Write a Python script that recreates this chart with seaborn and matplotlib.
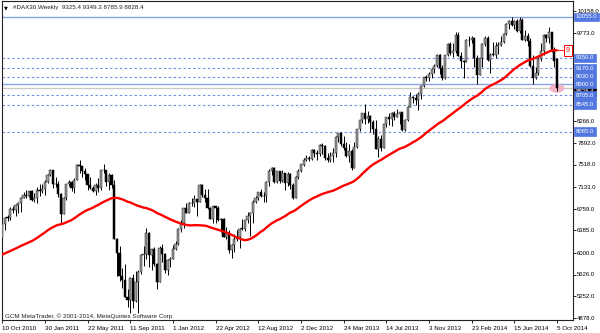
import numpy as np
import pandas as pd
import matplotlib
matplotlib.use("Agg")
import matplotlib.pyplot as plt
import matplotlib.transforms as mtrans
from matplotlib.patches import Ellipse
import seaborn as sns

# ---------------- data (weekly bars, first week = 10 Oct 2010) ----------------
opens = [6250, 6492, 6606, 6601, 6754, 6728, 6829, 6849, 6947, 6993, 6982, 7057, 6914, 6947, 7076, 7062, 7102, 7216, 7340, 7426,
         7185, 7178, 7011, 6664, 6947, 7180, 7217, 7116, 7254, 7514, 7492, 7405, 7359, 7164, 7109, 7070, 7164, 7121, 7419, 7419,
         7220, 7344, 7158, 6236, 5998, 5603, 5538, 5246, 5189, 5574, 5164, 5502, 5675, 5967, 5971, 6346, 5966, 6057, 5800, 5492,
         6080, 5986, 5702, 5878, 5898, 6057, 6143, 6404, 6511, 6766, 6692, 6848, 6864, 6922, 6880, 7157, 6996, 6947, 6775, 6583,
         6801, 6762, 6561, 6580, 6271, 6339, 6050, 6130, 6229, 6263, 6416, 6410, 6557, 6630, 6690, 6866, 6945, 7040, 6971, 6970,
         7214, 7412, 7451, 7216, 7398, 7233, 7380, 7203, 7363, 7163, 6950, 7309, 7405, 7518, 7597, 7636, 7612, 7776, 7716, 7702,
         7857, 7833, 7634, 7593, 7661, 7708, 7986, 8058, 7870, 7795, 7658, 7744, 7459, 7814, 8122, 8278, 8398, 8305, 8348, 8254,
         8127, 7789, 7959, 7806, 8212, 8331, 8298, 8410, 8338, 8391, 8416, 8103, 8275, 8510, 8675, 8661, 8622, 8725, 8869, 9018,
         9010, 9078, 9169, 9213, 9405, 9172, 9006, 9400, 9589, 9435, 9473, 9742, 9392, 9306, 9289, 9662, 9656, 9692, 9350, 9056,
         9342, 9587, 9695, 9315, 9409, 9401, 9556, 9581, 9630, 9768, 9943, 9987, 9912, 9987, 9815, 10009, 9666, 9720, 9644, 9210,
         9010, 9092, 9339, 9470, 9747, 9691, 9799, 9490, 9325.4]
highs = [6510, 6620, 6650, 6790, 6800, 6840, 6870, 6960, 7040, 7080, 7070, 7077, 7030, 7130, 7180, 7180, 7250, 7360, 7440, 7430,
         7300, 7230, 7020, 6960, 7190, 7260, 7230, 7280, 7530, 7600, 7500, 7450, 7360, 7300, 7150, 7200, 7280, 7420, 7520, 7420,
         7370, 7360, 7250, 6250, 6120, 5740, 5800, 5370, 5580, 5630, 5690, 5700, 5980, 6120, 6430, 6360, 6070, 6100, 5820, 6120,
         6150, 6000, 5900, 5930, 6130, 6200, 6420, 6560, 6770, 6860, 6870, 6950, 7000, 6930, 7190, 7190, 7100, 7100, 6790, 6810,
         6810, 6800, 6590, 6600, 6440, 6400, 6150, 6330, 6390, 6420, 6580, 6560, 6700, 6700, 6900, 6980, 7040, 7100, 7040, 7230,
         7440, 7480, 7470, 7410, 7400, 7420, 7380, 7390, 7380, 7200, 7320, 7440, 7530, 7630, 7680, 7670, 7780, 7780, 7760, 7870,
         7880, 7850, 7710, 7730, 7810, 8000, 8060, 8070, 8000, 7910, 7870, 7780, 7900, 8130, 8290, 8400, 8560, 8440, 8370, 8290,
         8280, 8000, 8020, 8220, 8340, 8400, 8420, 8430, 8470, 8420, 8420, 8300, 8520, 8770, 8700, 8730, 8760, 8880, 9020, 9060,
         9110, 9180, 9250, 9420, 9420, 9230, 9410, 9600, 9620, 9600, 9790, 9800, 9450, 9320, 9680, 9730, 9720, 9700, 9400, 9350,
         9600, 9720, 9720, 9430, 9620, 9620, 9630, 9720, 9780, 9960, 10000, 10050, 10000, 10020, 10050, 10030, 9830, 9780, 9700, 9400,
         9200, 9400, 9600, 9760, 9760, 9890, 9800, 9540, 9349.3]
lows = [6220, 6400, 6540, 6560, 6690, 6630, 6680, 6700, 6940, 6950, 6960, 6890, 6880, 6860, 6980, 7020, 7000, 7200, 7320, 7110,
        7130, 6960, 6490, 6660, 6900, 7150, 7060, 7020, 7250, 7380, 7300, 7250, 7080, 7100, 7040, 7000, 7050, 7080, 7380, 7150,
        7080, 7120, 6230, 5600, 5510, 5400, 5240, 5070, 4965, 5050, 5150, 4970, 5640, 5780, 5890, 5760, 5700, 5770, 5370, 5490,
        5840, 5660, 5620, 5750, 5890, 6040, 6140, 6360, 6430, 6680, 6690, 6810, 6780, 6630, 6870, 6960, 6880, 6760, 6580, 6510,
        6520, 6550, 6360, 6270, 6230, 6000, 5910, 6020, 6200, 6080, 6390, 6380, 6520, 6290, 6520, 6860, 6900, 6960, 6880, 6880,
        7150, 7340, 7200, 7200, 7200, 7220, 7080, 7150, 7100, 6920, 6940, 7270, 7390, 7500, 7580, 7580, 7600, 7640, 7600, 7660,
        7700, 7600, 7560, 7560, 7560, 7650, 7900, 7840, 7760, 7640, 7560, 7420, 7450, 7800, 8100, 8230, 8210, 8240, 8080, 8050,
        7780, 7650, 7750, 7800, 8160, 8200, 8180, 8280, 8330, 8220, 8090, 8100, 8270, 8500, 8580, 8540, 8450, 8640, 8850, 8960,
        8960, 9000, 9090, 9200, 9080, 8970, 8990, 9390, 9400, 9370, 9440, 9380, 9180, 9000, 9280, 9560, 9600, 9200, 8910, 9050,
        9200, 9550, 9300, 9100, 9380, 9350, 9420, 9550, 9600, 9750, 9850, 9900, 9850, 9790, 9780, 9660, 9650, 9560, 9200, 8900,
        8990, 9050, 9290, 9400, 9630, 9600, 9450, 9200, 8785.9]
closes = [6492, 6606, 6601, 6754, 6728, 6829, 6849, 6947, 6993, 6982, 7057, 6914, 6947, 7076, 7062, 7102, 7216, 7340, 7426, 7185,
          7178, 7011, 6664, 6947, 7180, 7217, 7116, 7254, 7514, 7492, 7405, 7359, 7164, 7109, 7070, 7164, 7121, 7419, 7419, 7220,
          7344, 7158, 6236, 5998, 5603, 5538, 5246, 5189, 5574, 5164, 5502, 5675, 5967, 5971, 6346, 5966, 6057, 5800, 5492, 6080,
          5986, 5702, 5878, 5898, 6057, 6143, 6404, 6511, 6766, 6692, 6848, 6864, 6922, 6880, 7157, 6996, 6947, 6775, 6583, 6801,
          6762, 6561, 6580, 6271, 6339, 6050, 6130, 6229, 6263, 6416, 6410, 6557, 6630, 6690, 6866, 6945, 7040, 6971, 6970, 7214,
          7412, 7451, 7216, 7398, 7233, 7380, 7203, 7363, 7163, 6950, 7309, 7405, 7518, 7597, 7636, 7612, 7776, 7716, 7702, 7857,
          7833, 7634, 7593, 7661, 7708, 7986, 8058, 7870, 7795, 7658, 7744, 7459, 7814, 8122, 8278, 8398, 8305, 8348, 8254, 8127,
          7789, 7959, 7806, 8212, 8331, 8298, 8410, 8338, 8391, 8416, 8103, 8275, 8510, 8675, 8661, 8622, 8725, 8869, 9018, 9010,
          9078, 9169, 9213, 9405, 9172, 9006, 9400, 9589, 9435, 9473, 9742, 9392, 9306, 9289, 9662, 9656, 9692, 9350, 9056, 9342,
          9587, 9695, 9315, 9409, 9401, 9556, 9581, 9630, 9768, 9943, 9987, 9912, 9987, 9815, 10009, 9666, 9720, 9644, 9210, 9010,
          9092, 9339, 9470, 9747, 9691, 9799, 9490, 9300, 8828.4]
# weekly closes before the visible range (feed the 50-week moving average)
pre_closes = [5489, 5626, 5663, 5685, 5817, 5709, 5831, 5957, 5957,
              6037, 5875, 5696, 5608, 5434, 5501, 5722, 5598, 5877, 5945, 5982, 6120, 6235, 6250, 6180, 6259, 6136,
              5716, 5950, 5829, 5946, 5938, 6049, 6216, 6070, 5835, 6066, 6040, 6175, 6148, 6312, 6110, 6005, 5951,
              6152, 6215, 6200, 6299, 6211, 6250]
ma_period = 50

x_tick_weeks = [0, 16, 32, 48, 64, 80, 96, 112, 128, 144, 160, 176, 192, 208]
x_tick_labels = ["10 Oct 2010", "30 Jan 2011", "22 May 2011", "11 Sep 2011", "1 Jan 2012", "22 Apr 2012",
                 "12 Aug 2012", "2 Dec 2012", "24 Mar 2013", "14 Jul 2013", "3 Nov 2013", "23 Feb 2014",
                 "15 Jun 2014", "5 Oct 2014"]
y_tick_values = [10158, 9773, 8266, 7892, 7518, 7133, 6759, 6385, 6000, 5626, 5252, 4878]
solid_levels = [10055, 8900]
dashed_levels = [9350, 9170, 9030, 8705, 8545, 8085]
last_price = 8828.4
header = "#DAX30,Weekly  9325.4 9349.3 8785.9 8828.4"
footer = "GCM MetaTrader, \u00a9 2001-2014, MetaQuotes Software Corp."

# ---------------- build frame ----------------
df = pd.DataFrame({"open": opens, "high": highs, "low": lows, "close": closes})
df["week"] = np.arange(len(df))
all_close = pd.Series(pre_closes + closes)
df["ma"] = all_close.rolling(ma_period).mean().iloc[len(pre_closes):].to_numpy()

sns.set_theme(style="white")
plt.rcParams["font.family"] = ["Liberation Sans", "DejaVu Sans"]

W, H = 600, 333
fig = plt.figure(figsize=(6, 3.33), dpi=100)
ax_l, ax_r, ax_t, ax_b = 2, 573, 0.5, 320
ax = fig.add_axes([ax_l / W, 1 - ax_b / H, (ax_r - ax_l) / W, (ax_b - ax_t) / H])
ax.set_facecolor("white")

px_week = 2.667
x0 = 2.2
ax.set_xlim((ax_l - x0) / px_week, (ax_r - x0) / px_week)
ppx = 17.2
ax.set_ylim(10055 - (ax_b - 17) * ppx, 10055 + (17 - ax_t) * ppx)

fs = 4.5
fs_y = 4.3
line_blue = "#6f8fe8"
box_blue = "#5277e0"

# level lines
for lv in solid_levels:
    ax.axhline(lv, color="#8aa4ea", lw=1.0, zorder=1)
for lv in dashed_levels:
    ax.axhline(lv, color=line_blue, lw=0.8, ls=(0, (2.2, 2.2)), zorder=1)
ax.axhline(last_price, color="#c8c8c8", lw=1.0, zorder=1)

# highlight ellipse at last close
last_i = df["week"].iloc[-1]
ax.add_patch(Ellipse((last_i, last_price), 15 / px_week, 9 * ppx, color="#f4aec2", alpha=0.9, zorder=1.5, lw=0))

# candles
up = df["close"] >= df["open"]
ax.vlines(df["week"], df["low"], df["high"], color="black", lw=0.7, zorder=2)
body_bottom = np.minimum(df["open"], df["close"])
body_h = np.maximum(np.abs(df["close"] - df["open"]), 10)
ax.bar(df["week"][up], body_h[up], bottom=body_bottom[up], width=0.8, color="#9c9c9c",
       edgecolor="#202020", linewidth=0.35, zorder=3)
ax.bar(df["week"][~up], body_h[~up], bottom=body_bottom[~up], width=0.8, color="black",
       edgecolor="black", linewidth=0.35, zorder=3)

# moving average
sns.lineplot(data=df, x="week", y="ma", color="#ff0000", lw=1.7, ax=ax, zorder=4, legend=False)
ma_last = df["ma"].iloc[-1]
ax.plot([last_i, (ax_r - x0) / px_week], [ma_last, ma_last], color="#ff3030", lw=0.8, zorder=4)
ax.text((566 - x0) / px_week, ma_last, "9", color="#ff0000", fontsize=fs + 0.6, va="center", ha="left",
        zorder=5, clip_on=True,
        bbox=dict(boxstyle="square,pad=0.25", fc="white", ec="#ff0000", lw=0.7))

# axes styling
for s in ax.spines.values():
    s.set_color("#222222")
    s.set_linewidth(0.8)
ax.grid(False)
ax.set_xlabel("")
ax.set_ylabel("")
ax.set_xticks(x_tick_weeks)
ax.set_xticklabels(x_tick_labels, ha="left", fontsize=fs, color="black")
ax.tick_params(axis="x", direction="out", length=2.5, width=0.6, pad=1.5, colors="black", bottom=True)
ax.yaxis.tick_right()
ax.set_yticks(y_tick_values)
ax.set_yticklabels([f"{v:.1f}" for v in y_tick_values], fontsize=fs_y, color="black")
ax.tick_params(axis="y", direction="out", length=2.0, width=0.6, pad=1.0, colors="black", right=True, left=False)

# price boxes on the right axis
btr = mtrans.blended_transform_factory(ax.transAxes, ax.transData)
xb = 1 + 3.0 / (ax_r - ax_l)
ax.text(xb, last_price - 60, f"{last_price:.1f}", transform=btr, fontsize=fs_y, color="white", va="center",
        ha="left", clip_on=False, zorder=6,
        bbox=dict(boxstyle="square,pad=0.3", fc="black", ec="black", lw=0.5))
for lv in solid_levels + dashed_levels:
    ax.text(xb, lv, f"{lv:.1f}", transform=btr, fontsize=fs_y, color="white", va="center", ha="left",
            clip_on=False, zorder=7,
            bbox=dict(boxstyle="square,pad=0.3", fc=box_blue, ec=box_blue, lw=0.5))

# header and footer
ax.text(0.004, 0.985, "\u25bc", transform=ax.transAxes, fontsize=3.6, va="top", ha="left",
        family="DejaVu Sans", color="black")
ax.text(0.02, 0.985, header, transform=ax.transAxes, fontsize=fs, va="top", ha="left", color="#202020")
ax.text(0.006, 0.013, footer, transform=ax.transAxes, fontsize=fs, va="center", ha="left", color="#202020")

fig.savefig("out.png", dpi=100, facecolor="white")
